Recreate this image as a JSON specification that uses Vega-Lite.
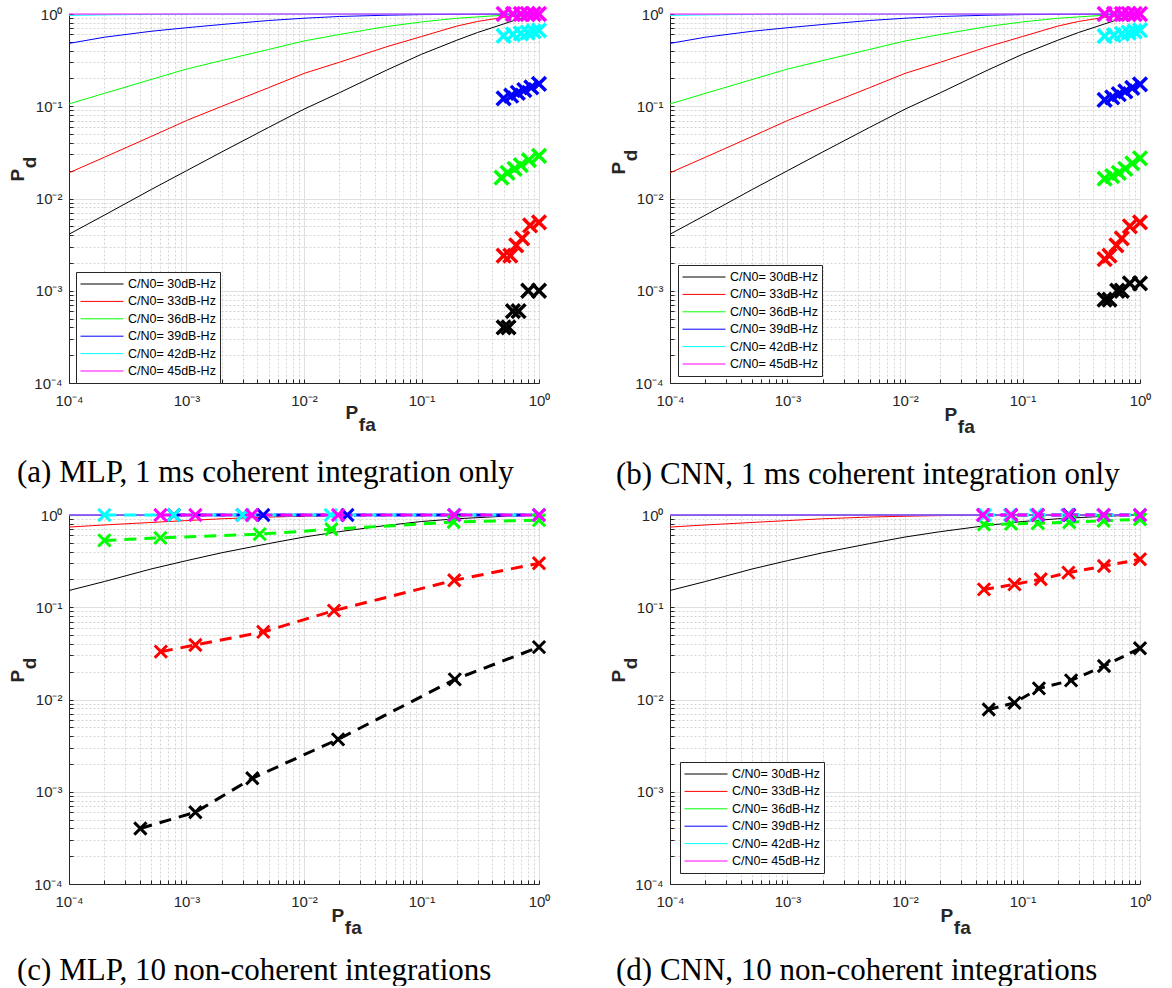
{
  "$schema": "https://vega.github.io/schema/vega-lite/v6.json",
  "background": "white",
  "padding": {"left": 8, "top": 0, "right": 5, "bottom": 0},
  "config": {
    "view": {"stroke": null},
    "axis": {
      "labelFont": "Liberation Sans", "labelFontSize": 15, "labelColor": "#262626",
      "domainColor": "#262626", "tickColor": "#262626", "tickSize": -4,
      "labelOverlap": false, "labelFlush": false, "grid": true,
      "titleFont": "Liberation Sans", "titleFontSize": 19, "titleFontWeight": "bold", "titleColor": "#262626",
      "titleLineHeight": 12
    },
    "legend": {
      "orient": "none", "title": null, "symbolType": "stroke", "symbolSize": 1849, "symbolStrokeWidth": 1,
      "labelFont": "Liberation Sans", "labelFontSize": 12.5, "labelColor": "#000", "strokeColor": "#262626",
      "fillColor": "#fff", "padding": 4, "clipHeight": 16, "rowPadding": 1.4, "labelOffset": 4
    },
    "title": {"font": "Liberation Serif", "fontSize": 31, "fontWeight": "normal", "color": "#000"}
  },
  "datasets": {
    "theory1": [
      {"s":"30","x":0.0001,"y":0.0041},{"s":"30","x":0.0002,"y":0.0066},{"s":"30","x":0.0005,"y":0.0125},{"s":"30","x":0.001,"y":0.020},{"s":"30","x":0.002,"y":0.032},{"s":"30","x":0.005,"y":0.059},{"s":"30","x":0.01,"y":0.093},{"s":"30","x":0.02,"y":0.14},{"s":"30","x":0.05,"y":0.245},{"s":"30","x":0.1,"y":0.366},{"s":"30","x":0.2,"y":0.52},{"s":"30","x":0.3,"y":0.63},{"s":"30","x":0.5,"y":0.78},{"s":"30","x":0.7,"y":0.9},{"s":"30","x":1,"y":1},
      {"s":"33","x":0.0001,"y":0.019},{"s":"33","x":0.0002,"y":0.028},{"s":"33","x":0.0005,"y":0.047},{"s":"33","x":0.001,"y":0.070},{"s":"33","x":0.002,"y":0.10},{"s":"33","x":0.005,"y":0.159},{"s":"33","x":0.01,"y":0.227},{"s":"33","x":0.02,"y":0.30},{"s":"33","x":0.05,"y":0.44},{"s":"33","x":0.1,"y":0.57},{"s":"33","x":0.2,"y":0.74},{"s":"33","x":0.3,"y":0.83},{"s":"33","x":0.5,"y":0.92},{"s":"33","x":0.7,"y":0.97},{"s":"33","x":1,"y":1},
      {"s":"36","x":0.0001,"y":0.106},{"s":"36","x":0.0002,"y":0.138},{"s":"36","x":0.0005,"y":0.195},{"s":"36","x":0.001,"y":0.253},{"s":"36","x":0.002,"y":0.313},{"s":"36","x":0.005,"y":0.413},{"s":"36","x":0.01,"y":0.51},{"s":"36","x":0.02,"y":0.60},{"s":"36","x":0.05,"y":0.73},{"s":"36","x":0.1,"y":0.82},{"s":"36","x":0.2,"y":0.90},{"s":"36","x":0.5,"y":0.97},{"s":"36","x":1,"y":1},
      {"s":"39","x":0.0001,"y":0.48},{"s":"39","x":0.0002,"y":0.56},{"s":"39","x":0.0005,"y":0.65},{"s":"39","x":0.001,"y":0.71},{"s":"39","x":0.002,"y":0.77},{"s":"39","x":0.005,"y":0.85},{"s":"39","x":0.01,"y":0.90},{"s":"39","x":0.02,"y":0.94},{"s":"39","x":0.05,"y":0.97},{"s":"39","x":0.1,"y":0.985},{"s":"39","x":1,"y":1},
      {"s":"42","x":0.0001,"y":0.965},{"s":"42","x":0.0002,"y":0.978},{"s":"42","x":0.0005,"y":0.99},{"s":"42","x":0.001,"y":0.995},{"s":"42","x":0.01,"y":0.999},{"s":"42","x":1,"y":1},
      {"s":"45","x":0.0001,"y":0.9995},{"s":"45","x":1,"y":1}
    ],
    "theory10": [
      {"s":"30","x":0.0001,"y":0.152},{"s":"30","x":0.0002,"y":0.19},{"s":"30","x":0.0005,"y":0.26},{"s":"30","x":0.001,"y":0.32},{"s":"30","x":0.002,"y":0.39},{"s":"30","x":0.005,"y":0.49},{"s":"30","x":0.01,"y":0.577},{"s":"30","x":0.02,"y":0.66},{"s":"30","x":0.05,"y":0.77},{"s":"30","x":0.1,"y":0.85},{"s":"30","x":0.2,"y":0.91},{"s":"30","x":0.5,"y":0.97},{"s":"30","x":1,"y":1},
      {"s":"33","x":0.0001,"y":0.74},{"s":"33","x":0.0002,"y":0.78},{"s":"33","x":0.0005,"y":0.83},{"s":"33","x":0.001,"y":0.87},{"s":"33","x":0.002,"y":0.91},{"s":"33","x":0.005,"y":0.95},{"s":"33","x":0.01,"y":0.97},{"s":"33","x":0.02,"y":0.985},{"s":"33","x":0.05,"y":0.995},{"s":"33","x":0.1,"y":0.998},{"s":"33","x":1,"y":1},
      {"s":"36","x":0.0001,"y":0.985},{"s":"36","x":0.001,"y":0.995},{"s":"36","x":0.01,"y":0.999},{"s":"36","x":1,"y":1},
      {"s":"39","x":0.0001,"y":0.999},{"s":"39","x":1,"y":1},
      {"s":"42","x":0.0001,"y":1},{"s":"42","x":1,"y":1},
      {"s":"45","x":0.0001,"y":1},{"s":"45","x":1,"y":1}
    ],
    "mlp1": [
      {"s":"30","x":0.5,"y":0.0004},{"s":"30","x":0.55,"y":0.0004},{"s":"30","x":0.6,"y":0.0006},{"s":"30","x":0.67,"y":0.0006},{"s":"30","x":0.81,"y":0.001},{"s":"30","x":1.0,"y":0.001},
      {"s":"33","x":0.5,"y":0.0024},{"s":"33","x":0.57,"y":0.0024},{"s":"33","x":0.64,"y":0.0031},{"s":"33","x":0.72,"y":0.0037},{"s":"33","x":0.84,"y":0.0051},{"s":"33","x":1.0,"y":0.0055},
      {"s":"36","x":0.48,"y":0.0168},{"s":"36","x":0.54,"y":0.019},{"s":"36","x":0.62,"y":0.021},{"s":"36","x":0.7,"y":0.023},{"s":"36","x":0.82,"y":0.026},{"s":"36","x":1.0,"y":0.029},
      {"s":"39","x":0.5,"y":0.122},{"s":"39","x":0.58,"y":0.13},{"s":"39","x":0.66,"y":0.14},{"s":"39","x":0.75,"y":0.15},{"s":"39","x":0.86,"y":0.16},{"s":"39","x":1.0,"y":0.175},
      {"s":"42","x":0.5,"y":0.58},{"s":"42","x":0.6,"y":0.60},{"s":"42","x":0.7,"y":0.615},{"s":"42","x":0.8,"y":0.63},{"s":"42","x":0.9,"y":0.65},{"s":"42","x":1.0,"y":0.665},
      {"s":"45","x":0.5,"y":1},{"s":"45","x":0.6,"y":1},{"s":"45","x":0.7,"y":1},{"s":"45","x":0.8,"y":1},{"s":"45","x":0.9,"y":1},{"s":"45","x":1.0,"y":1}
    ],
    "cnn1": [
      {"s":"30","x":0.5,"y":0.0008},{"s":"30","x":0.55,"y":0.0008},{"s":"30","x":0.64,"y":0.001},{"s":"30","x":0.7,"y":0.001},{"s":"30","x":0.82,"y":0.0012},{"s":"30","x":1.0,"y":0.0012},
      {"s":"33","x":0.5,"y":0.0022},{"s":"33","x":0.55,"y":0.0024},{"s":"33","x":0.63,"y":0.0031},{"s":"33","x":0.7,"y":0.0037},{"s":"33","x":0.82,"y":0.005},{"s":"33","x":1.0,"y":0.0055},
      {"s":"36","x":0.5,"y":0.0164},{"s":"36","x":0.58,"y":0.0175},{"s":"36","x":0.66,"y":0.019},{"s":"36","x":0.75,"y":0.021},{"s":"36","x":0.86,"y":0.024},{"s":"36","x":1.0,"y":0.0273},
      {"s":"39","x":0.5,"y":0.117},{"s":"39","x":0.58,"y":0.125},{"s":"39","x":0.66,"y":0.135},{"s":"39","x":0.75,"y":0.145},{"s":"39","x":0.86,"y":0.158},{"s":"39","x":1.0,"y":0.173},
      {"s":"42","x":0.5,"y":0.575},{"s":"42","x":0.6,"y":0.59},{"s":"42","x":0.7,"y":0.61},{"s":"42","x":0.8,"y":0.63},{"s":"42","x":0.9,"y":0.65},{"s":"42","x":1.0,"y":0.667},
      {"s":"45","x":0.5,"y":1},{"s":"45","x":0.6,"y":1},{"s":"45","x":0.7,"y":1},{"s":"45","x":0.8,"y":1},{"s":"45","x":0.9,"y":1},{"s":"45","x":1.0,"y":1}
    ],
    "mlp10": [
      {"s":"30","x":0.000405,"y":0.0004},{"s":"30","x":0.00119,"y":0.0006},{"s":"30","x":0.00363,"y":0.0014},{"s":"30","x":0.0195,"y":0.0037},{"s":"30","x":0.192,"y":0.0165},{"s":"30","x":1.0,"y":0.037},
      {"s":"33","x":0.000605,"y":0.033},{"s":"33","x":0.00119,"y":0.039},{"s":"33","x":0.0045,"y":0.054},{"s":"33","x":0.018,"y":0.092},{"s":"33","x":0.19,"y":0.196},{"s":"33","x":1.0,"y":0.30},
      {"s":"36","x":0.0002,"y":0.53},{"s":"36","x":0.0006,"y":0.565},{"s":"36","x":0.0042,"y":0.62},{"s":"36","x":0.0171,"y":0.70},{"s":"36","x":0.188,"y":0.84},{"s":"36","x":1.0,"y":0.88},
      {"s":"39","x":0.00078,"y":1},{"s":"39","x":0.003,"y":1},{"s":"39","x":0.0045,"y":1},{"s":"39","x":0.0234,"y":1},{"s":"39","x":0.19,"y":1},{"s":"39","x":1.0,"y":1},
      {"s":"42","x":0.0002,"y":1},{"s":"42","x":0.00078,"y":1},{"s":"42","x":0.003,"y":1},{"s":"42","x":0.0169,"y":1},{"s":"42","x":0.19,"y":1},{"s":"42","x":1.0,"y":1},
      {"s":"45","x":0.0006,"y":1},{"s":"45","x":0.00119,"y":1},{"s":"45","x":0.0036,"y":1},{"s":"45","x":0.0195,"y":1},{"s":"45","x":0.19,"y":1},{"s":"45","x":1.0,"y":1}
    ],
    "cnn10": [
      {"s":"30","x":0.0516,"y":0.0078},{"s":"30","x":0.0855,"y":0.0092},{"s":"30","x":0.138,"y":0.0132},{"s":"30","x":0.259,"y":0.0161},{"s":"30","x":0.494,"y":0.0231},{"s":"30","x":1.0,"y":0.0359},
      {"s":"33","x":0.047,"y":0.156},{"s":"33","x":0.0855,"y":0.177},{"s":"33","x":0.143,"y":0.201},{"s":"33","x":0.246,"y":0.237},{"s":"33","x":0.494,"y":0.28},{"s":"33","x":1.0,"y":0.331},
      {"s":"36","x":0.047,"y":0.79},{"s":"36","x":0.08,"y":0.80},{"s":"36","x":0.135,"y":0.815},{"s":"36","x":0.25,"y":0.835},{"s":"36","x":0.49,"y":0.865},{"s":"36","x":1.0,"y":0.90},
      {"s":"39","x":0.047,"y":1},{"s":"39","x":0.08,"y":1},{"s":"39","x":0.135,"y":1},{"s":"39","x":0.25,"y":1},{"s":"39","x":0.49,"y":1},{"s":"39","x":1.0,"y":1},
      {"s":"42","x":0.048,"y":1},{"s":"42","x":0.078,"y":1},{"s":"42","x":0.13,"y":1},{"s":"42","x":0.24,"y":1},{"s":"42","x":0.49,"y":1},{"s":"42","x":1.0,"y":1},
      {"s":"45","x":0.046,"y":1},{"s":"45","x":0.08,"y":1},{"s":"45","x":0.135,"y":1},{"s":"45","x":0.245,"y":1},{"s":"45","x":0.49,"y":1},{"s":"45","x":1.0,"y":1}
    ]
  },
  "columns": 2,
  "spacing": {"row": 132, "column": 131},
  "bounds": "flush",
  "resolve": {"scale": {"color": "independent"}, "legend": {"color": "independent"}},
  "concat": [
    {
      "width": 470, "height": 369,
      "title": {"text": "(a) MLP, 1 ms coherent integration only", "orient": "bottom", "anchor": "start", "frame": "group", "dx": -52, "offset": 24},
      "layer": [
        {
          "data": {"name": "theory1"},
          "mark": {"type": "line", "strokeWidth": 1},
          "encoding": {
            "x": {"field": "x", "type": "quantitative", "scale": {"type": "log", "domain": [0.0001, 1], "nice": false},
              "axis": {"values": [0.0001,0.0002,0.0003,0.0004,0.0005,0.0006,0.0007,0.0008,0.0009,0.001,0.002,0.003,0.004,0.005,0.006,0.007,0.008,0.009,0.01,0.02,0.03,0.04,0.05,0.06,0.07,0.08,0.09,0.1,0.2,0.3,0.4,0.5,0.6,0.7,0.8,0.9,1],
                "labelExpr": "abs(log(datum.value)/LN10-round(log(datum.value)/LN10))<0.001 ? ['10⁻⁴','10⁻³','10⁻²','10⁻¹','10⁰'][round(log(datum.value)/LN10)+4] : ''",
                "gridColor": {"condition": {"test": "abs(log(datum.value)/LN10-round(log(datum.value)/LN10))<0.001", "value": "#e0e0e0"}, "value": "#d4d4d4"},
                "gridDash": {"condition": {"test": "abs(log(datum.value)/LN10-round(log(datum.value)/LN10))<0.001", "value": []}, "value": [2, 2]},
                "labelPadding": 14, "title": ["P", "\u200b\u2002\u2009fa"], "titleAngle": 0, "titleAlign": "left", "titleBaseline": "alphabetic", "titleX": 276, "titleY": 35}},
            "y": {"field": "y", "type": "quantitative", "scale": {"type": "log", "domain": [0.0001, 1], "nice": false},
              "axis": {"values": [0.0001,0.0002,0.0003,0.0004,0.0005,0.0006,0.0007,0.0008,0.0009,0.001,0.002,0.003,0.004,0.005,0.006,0.007,0.008,0.009,0.01,0.02,0.03,0.04,0.05,0.06,0.07,0.08,0.09,0.1,0.2,0.3,0.4,0.5,0.6,0.7,0.8,0.9,1],
                "labelExpr": "abs(log(datum.value)/LN10-round(log(datum.value)/LN10))<0.001 ? ['10⁻⁴','10⁻³','10⁻²','10⁻¹','10⁰'][round(log(datum.value)/LN10)+4] : ''",
                "gridColor": {"condition": {"test": "abs(log(datum.value)/LN10-round(log(datum.value)/LN10))<0.001", "value": "#e0e0e0"}, "value": "#d4d4d4"},
                "gridDash": {"condition": {"test": "abs(log(datum.value)/LN10-round(log(datum.value)/LN10))<0.001", "value": []}, "value": [2, 2]},
                "labelPadding": 11, "title": ["P", "\u200b\u2002\u2009d"], "titleAngle": 270, "titleAlign": "left", "titleBaseline": "alphabetic", "titleX": -46, "titleY": 167}},
            "color": {"field": "s", "type": "nominal", "scale": {"domain": ["30","33","36","39","42","45"], "range": ["#000000","#ff0000","#00ff00","#0000ff","#00ffff","#ff00ff"]},
              "legend": {"legendX": 7, "legendY": 258, "labelExpr": "'C/N0= ' + datum.label + 'dB-Hz'"}}
          }
        },
        {
          "data": {"name": "mlp1"},
          "mark": {"type": "point", "shape": "M-1,-1L1,1M-1,1L1,-1", "filled": false, "strokeWidth": 3.5, "size": 190, "opacity": 1},
          "encoding": {
            "x": {"field": "x", "type": "quantitative"},
            "y": {"field": "y", "type": "quantitative"},
            "color": {"field": "s", "type": "nominal", "legend": null}
          }
        }
      ]
    },
    {
      "width": 470, "height": 369,
      "title": {"text": "(b) CNN, 1 ms coherent integration only", "orient": "bottom", "anchor": "start", "frame": "group", "dx": -54, "offset": 24},
      "layer": [
        {
          "data": {"name": "theory1"},
          "mark": {"type": "line", "strokeWidth": 1},
          "encoding": {
            "x": {"field": "x", "type": "quantitative", "scale": {"type": "log", "domain": [0.0001, 1], "nice": false},
              "axis": {"values": [0.0001,0.0002,0.0003,0.0004,0.0005,0.0006,0.0007,0.0008,0.0009,0.001,0.002,0.003,0.004,0.005,0.006,0.007,0.008,0.009,0.01,0.02,0.03,0.04,0.05,0.06,0.07,0.08,0.09,0.1,0.2,0.3,0.4,0.5,0.6,0.7,0.8,0.9,1],
                "labelExpr": "abs(log(datum.value)/LN10-round(log(datum.value)/LN10))<0.001 ? ['10⁻⁴','10⁻³','10⁻²','10⁻¹','10⁰'][round(log(datum.value)/LN10)+4] : ''",
                "gridColor": {"condition": {"test": "abs(log(datum.value)/LN10-round(log(datum.value)/LN10))<0.001", "value": "#e0e0e0"}, "value": "#d4d4d4"},
                "gridDash": {"condition": {"test": "abs(log(datum.value)/LN10-round(log(datum.value)/LN10))<0.001", "value": []}, "value": [2, 2]},
                "labelPadding": 14, "title": ["P", "\u200b\u2002\u2009fa"], "titleAngle": 0, "titleAlign": "left", "titleBaseline": "alphabetic", "titleX": 274, "titleY": 37}},
            "y": {"field": "y", "type": "quantitative", "scale": {"type": "log", "domain": [0.0001, 1], "nice": false},
              "axis": {"values": [0.0001,0.0002,0.0003,0.0004,0.0005,0.0006,0.0007,0.0008,0.0009,0.001,0.002,0.003,0.004,0.005,0.006,0.007,0.008,0.009,0.01,0.02,0.03,0.04,0.05,0.06,0.07,0.08,0.09,0.1,0.2,0.3,0.4,0.5,0.6,0.7,0.8,0.9,1],
                "labelExpr": "abs(log(datum.value)/LN10-round(log(datum.value)/LN10))<0.001 ? ['10⁻⁴','10⁻³','10⁻²','10⁻¹','10⁰'][round(log(datum.value)/LN10)+4] : ''",
                "gridColor": {"condition": {"test": "abs(log(datum.value)/LN10-round(log(datum.value)/LN10))<0.001", "value": "#e0e0e0"}, "value": "#d4d4d4"},
                "gridDash": {"condition": {"test": "abs(log(datum.value)/LN10-round(log(datum.value)/LN10))<0.001", "value": []}, "value": [2, 2]},
                "labelPadding": 11, "title": ["P", "\u200b\u2002\u2009d"], "titleAngle": 270, "titleAlign": "left", "titleBaseline": "alphabetic", "titleX": -46, "titleY": 160}},
            "color": {"field": "s", "type": "nominal", "scale": {"domain": ["30","33","36","39","42","45"], "range": ["#000000","#ff0000","#00ff00","#0000ff","#00ffff","#ff00ff"]},
              "legend": {"legendX": 8, "legendY": 251, "labelExpr": "'C/N0= ' + datum.label + 'dB-Hz'"}}
          }
        },
        {
          "data": {"name": "cnn1"},
          "mark": {"type": "point", "shape": "M-1,-1L1,1M-1,1L1,-1", "filled": false, "strokeWidth": 3.5, "size": 190, "opacity": 1},
          "encoding": {
            "x": {"field": "x", "type": "quantitative"},
            "y": {"field": "y", "type": "quantitative"},
            "color": {"field": "s", "type": "nominal", "legend": null}
          }
        }
      ]
    },
    {
      "width": 470, "height": 369,
      "title": {"text": "(c) MLP, 10 non-coherent integrations", "orient": "bottom", "anchor": "start", "frame": "group", "dx": -52, "offset": 19},
      "layer": [
        {
          "data": {"name": "theory10"},
          "mark": {"type": "line", "strokeWidth": 1},
          "encoding": {
            "x": {"field": "x", "type": "quantitative", "scale": {"type": "log", "domain": [0.0001, 1], "nice": false},
              "axis": {"values": [0.0001,0.0002,0.0003,0.0004,0.0005,0.0006,0.0007,0.0008,0.0009,0.001,0.002,0.003,0.004,0.005,0.006,0.007,0.008,0.009,0.01,0.02,0.03,0.04,0.05,0.06,0.07,0.08,0.09,0.1,0.2,0.3,0.4,0.5,0.6,0.7,0.8,0.9,1],
                "labelExpr": "abs(log(datum.value)/LN10-round(log(datum.value)/LN10))<0.001 ? ['10⁻⁴','10⁻³','10⁻²','10⁻¹','10⁰'][round(log(datum.value)/LN10)+4] : ''",
                "gridColor": {"condition": {"test": "abs(log(datum.value)/LN10-round(log(datum.value)/LN10))<0.001", "value": "#e0e0e0"}, "value": "#d4d4d4"},
                "gridDash": {"condition": {"test": "abs(log(datum.value)/LN10-round(log(datum.value)/LN10))<0.001", "value": []}, "value": [2, 2]},
                "labelPadding": 14, "title": ["P", "\u200b\u2002\u2009fa"], "titleAngle": 0, "titleAlign": "left", "titleBaseline": "alphabetic", "titleX": 262, "titleY": 37}},
            "y": {"field": "y", "type": "quantitative", "scale": {"type": "log", "domain": [0.0001, 1], "nice": false},
              "axis": {"values": [0.0001,0.0002,0.0003,0.0004,0.0005,0.0006,0.0007,0.0008,0.0009,0.001,0.002,0.003,0.004,0.005,0.006,0.007,0.008,0.009,0.01,0.02,0.03,0.04,0.05,0.06,0.07,0.08,0.09,0.1,0.2,0.3,0.4,0.5,0.6,0.7,0.8,0.9,1],
                "labelExpr": "abs(log(datum.value)/LN10-round(log(datum.value)/LN10))<0.001 ? ['10⁻⁴','10⁻³','10⁻²','10⁻¹','10⁰'][round(log(datum.value)/LN10)+4] : ''",
                "gridColor": {"condition": {"test": "abs(log(datum.value)/LN10-round(log(datum.value)/LN10))<0.001", "value": "#e0e0e0"}, "value": "#d4d4d4"},
                "gridDash": {"condition": {"test": "abs(log(datum.value)/LN10-round(log(datum.value)/LN10))<0.001", "value": []}, "value": [2, 2]},
                "labelPadding": 11, "title": ["P", "\u200b\u2002\u2009d"], "titleAngle": 270, "titleAlign": "left", "titleBaseline": "alphabetic", "titleX": -46, "titleY": 167}},
            "color": {"field": "s", "type": "nominal", "scale": {"domain": ["30","33","36","39","42","45"], "range": ["#000000","#ff0000","#00ff00","#0000ff","#00ffff","#ff00ff"]}, "legend": null}
          }
        },
        {
          "data": {"name": "mlp10"},
          "mark": {"type": "line", "strokeWidth": 3, "strokeDash": [12, 8]},
          "encoding": {
            "x": {"field": "x", "type": "quantitative"},
            "y": {"field": "y", "type": "quantitative"},
            "color": {"field": "s", "type": "nominal", "legend": null}
          }
        },
        {
          "data": {"name": "mlp10"},
          "mark": {"type": "point", "shape": "M-1,-1L1,1M-1,1L1,-1", "filled": false, "strokeWidth": 3, "size": 150, "opacity": 1},
          "encoding": {
            "x": {"field": "x", "type": "quantitative"},
            "y": {"field": "y", "type": "quantitative"},
            "color": {"field": "s", "type": "nominal", "legend": null}
          }
        }
      ]
    },
    {
      "width": 470, "height": 369,
      "title": {"text": "(d) CNN, 10 non-coherent integrations", "orient": "bottom", "anchor": "start", "frame": "group", "dx": -54, "offset": 19},
      "layer": [
        {
          "data": {"name": "theory10"},
          "mark": {"type": "line", "strokeWidth": 1},
          "encoding": {
            "x": {"field": "x", "type": "quantitative", "scale": {"type": "log", "domain": [0.0001, 1], "nice": false},
              "axis": {"values": [0.0001,0.0002,0.0003,0.0004,0.0005,0.0006,0.0007,0.0008,0.0009,0.001,0.002,0.003,0.004,0.005,0.006,0.007,0.008,0.009,0.01,0.02,0.03,0.04,0.05,0.06,0.07,0.08,0.09,0.1,0.2,0.3,0.4,0.5,0.6,0.7,0.8,0.9,1],
                "labelExpr": "abs(log(datum.value)/LN10-round(log(datum.value)/LN10))<0.001 ? ['10⁻⁴','10⁻³','10⁻²','10⁻¹','10⁰'][round(log(datum.value)/LN10)+4] : ''",
                "gridColor": {"condition": {"test": "abs(log(datum.value)/LN10-round(log(datum.value)/LN10))<0.001", "value": "#e0e0e0"}, "value": "#d4d4d4"},
                "gridDash": {"condition": {"test": "abs(log(datum.value)/LN10-round(log(datum.value)/LN10))<0.001", "value": []}, "value": [2, 2]},
                "labelPadding": 14, "title": ["P", "\u200b\u2002\u2009fa"], "titleAngle": 0, "titleAlign": "left", "titleBaseline": "alphabetic", "titleX": 270, "titleY": 37}},
            "y": {"field": "y", "type": "quantitative", "scale": {"type": "log", "domain": [0.0001, 1], "nice": false},
              "axis": {"values": [0.0001,0.0002,0.0003,0.0004,0.0005,0.0006,0.0007,0.0008,0.0009,0.001,0.002,0.003,0.004,0.005,0.006,0.007,0.008,0.009,0.01,0.02,0.03,0.04,0.05,0.06,0.07,0.08,0.09,0.1,0.2,0.3,0.4,0.5,0.6,0.7,0.8,0.9,1],
                "labelExpr": "abs(log(datum.value)/LN10-round(log(datum.value)/LN10))<0.001 ? ['10⁻⁴','10⁻³','10⁻²','10⁻¹','10⁰'][round(log(datum.value)/LN10)+4] : ''",
                "gridColor": {"condition": {"test": "abs(log(datum.value)/LN10-round(log(datum.value)/LN10))<0.001", "value": "#e0e0e0"}, "value": "#d4d4d4"},
                "gridDash": {"condition": {"test": "abs(log(datum.value)/LN10-round(log(datum.value)/LN10))<0.001", "value": []}, "value": [2, 2]},
                "labelPadding": 11, "title": ["P", "\u200b\u2002\u2009d"], "titleAngle": 270, "titleAlign": "left", "titleBaseline": "alphabetic", "titleX": -46, "titleY": 167}},
            "color": {"field": "s", "type": "nominal", "scale": {"domain": ["30","33","36","39","42","45"], "range": ["#000000","#ff0000","#00ff00","#0000ff","#00ffff","#ff00ff"]},
              "legend": {"legendX": 10, "legendY": 247, "labelExpr": "'C/N0= ' + datum.label + 'dB-Hz'"}}
          }
        },
        {
          "data": {"name": "cnn10"},
          "mark": {"type": "line", "strokeWidth": 3, "strokeDash": [10, 7]},
          "encoding": {
            "x": {"field": "x", "type": "quantitative"},
            "y": {"field": "y", "type": "quantitative"},
            "color": {"field": "s", "type": "nominal", "legend": null}
          }
        },
        {
          "data": {"name": "cnn10"},
          "mark": {"type": "point", "shape": "M-1,-1L1,1M-1,1L1,-1", "filled": false, "strokeWidth": 3, "size": 150, "opacity": 1},
          "encoding": {
            "x": {"field": "x", "type": "quantitative"},
            "y": {"field": "y", "type": "quantitative"},
            "color": {"field": "s", "type": "nominal", "legend": null}
          }
        }
      ]
    }
  ]
}
